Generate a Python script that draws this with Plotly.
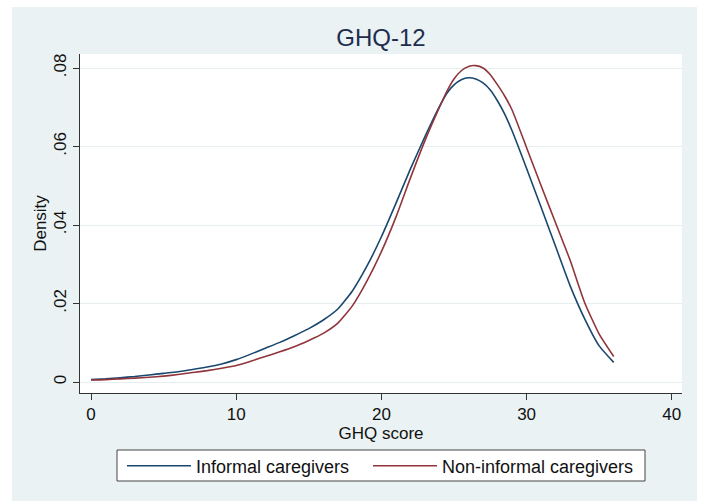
import plotly.graph_objects as go

# Data
ghq_score = [0, 1, 2, 3, 4, 5, 6, 7, 8, 9, 10, 11, 12, 13, 14, 15, 16, 17, 18, 19,
             20, 21, 22, 23, 24, 24.5, 25, 25.5, 26, 26.5, 27, 27.5, 28, 28.5, 29,
             30, 31, 32, 33, 34, 35, 36]
informal = [0.0006, 0.0008, 0.0011, 0.0014, 0.0018, 0.0022, 0.0026, 0.0032, 0.0038, 0.0046,
            0.0057, 0.0071, 0.0086, 0.0101, 0.0118, 0.0136, 0.0158, 0.0186, 0.0232, 0.0295,
            0.0370, 0.0455, 0.0543, 0.0625, 0.0702, 0.0735, 0.0757, 0.0770, 0.0775, 0.0772,
            0.0762, 0.0744, 0.0716, 0.0682, 0.0640,
            0.0544, 0.0445, 0.0345, 0.0245, 0.0161, 0.0092, 0.0050]
non_informal = [0.0005, 0.0006, 0.0008, 0.0010, 0.0012, 0.0015, 0.0019, 0.0024, 0.0029, 0.0035,
                0.0042, 0.0053, 0.0065, 0.0077, 0.0090, 0.0106, 0.0124, 0.0150, 0.0194, 0.0257,
                0.0332, 0.0420, 0.0520, 0.0615, 0.0700, 0.0740, 0.0772, 0.0793, 0.0804, 0.0806,
                0.0800, 0.0783, 0.0757, 0.0728, 0.0693,
                0.0597, 0.0500, 0.0405, 0.0310, 0.0202, 0.0122, 0.0065]
series_names = ["Informal caregivers", "Non-informal caregivers"]
x_ticks = [0, 10, 20, 30, 40]
y_ticks = [0, 0.02, 0.04, 0.06, 0.08]
y_tick_labels = ["0", ".02", ".04", ".06", ".08"]

FONT = "Liberation Sans, Arial, sans-serif"
BG = "#EAF2F3"
FS = 17

W, H = 703, 501
L, R, T, B = 80, 21, 54, 108
pw = W - L - R
ph = H - T - B


def px_to_paper_x(px):
    return (px - L) / pw


def px_to_paper_y(py):
    return (H - B - py) / ph


fig = go.Figure()
fig.add_trace(go.Scatter(x=ghq_score, y=informal, mode="lines", name=series_names[0],
                         legend="legend",
                         line=dict(color="#1A476F", width=1.6, shape="spline", smoothing=0.5)))
fig.add_trace(go.Scatter(x=ghq_score, y=non_informal, mode="lines", name=series_names[1],
                         legend="legend2",
                         line=dict(color="#90353B", width=1.6, shape="spline", smoothing=0.5)))

legend_common = dict(orientation="h", yanchor="middle", y=px_to_paper_y(466),
                     xanchor="left", bgcolor="rgba(0,0,0,0)", borderwidth=0,
                     font=dict(size=18, family=FONT, color="#111111"), itemwidth=64)

fig.update_layout(
    width=W, height=H,
    margin=dict(l=L, r=R, t=T, b=B, autoexpand=False),
    paper_bgcolor="white",
    plot_bgcolor="white",
    font=dict(family=FONT, size=FS, color="#111111"),
    title=dict(text="GHQ-12", x=0.5, xref="paper", xanchor="center",
               y=1 - 38 / H, yref="container", yanchor="middle",
               font=dict(size=24, color="#1E2D4F", family=FONT)),
    showlegend=True,
    legend=dict(x=px_to_paper_x(122), **legend_common),
    legend2=dict(x=px_to_paper_x(368), **legend_common),
    shapes=[
        dict(type="rect", xref="paper", yref="paper", layer="below",
             x0=px_to_paper_x(12), x1=px_to_paper_x(697),
             y0=px_to_paper_y(501), y1=px_to_paper_y(7),
             fillcolor=BG, line=dict(width=0)),
        dict(type="rect", xref="paper", yref="paper", layer="below",
             x0=0, x1=1, y0=0, y1=1,
             fillcolor="white", line=dict(width=0)),
        dict(type="rect", xref="paper", yref="paper", layer="above",
             x0=px_to_paper_x(117), x1=px_to_paper_x(645),
             y0=px_to_paper_y(481), y1=px_to_paper_y(450),
             fillcolor="white", line=dict(width=1, color="#444444")),
    ],
)

fig.update_xaxes(
    range=[(80 - 91) / 14.52, (682 - 91) / 14.52],
    tickvals=x_ticks, ticktext=[str(v) for v in x_ticks],
    ticks="outside", ticklen=6, tickcolor="#333333",
    showline=True, linecolor="#333333", linewidth=1,
    showgrid=False, zeroline=False,
    tickfont=dict(size=FS, family=FONT, color="#111111"),
    title=dict(text="GHQ score", standoff=1, font=dict(size=FS, family=FONT, color="#111111")),
    automargin=False,
)
fig.update_yaxes(
    range=[(382 - 393) / 3925, (382 - 54) / 3925],
    tickvals=y_ticks, ticktext=y_tick_labels, tickangle=-90,
    ticks="outside", ticklen=6, tickcolor="#333333",
    showline=True, linecolor="#333333", linewidth=1,
    showgrid=True, gridcolor="#E6EEF0", gridwidth=1,
    zeroline=False,
    tickfont=dict(size=FS, family=FONT, color="#111111"),
    title=dict(text="Density", standoff=0, font=dict(size=FS, family=FONT, color="#111111")),
    automargin=False,
)

fig.write_html("out.html")
